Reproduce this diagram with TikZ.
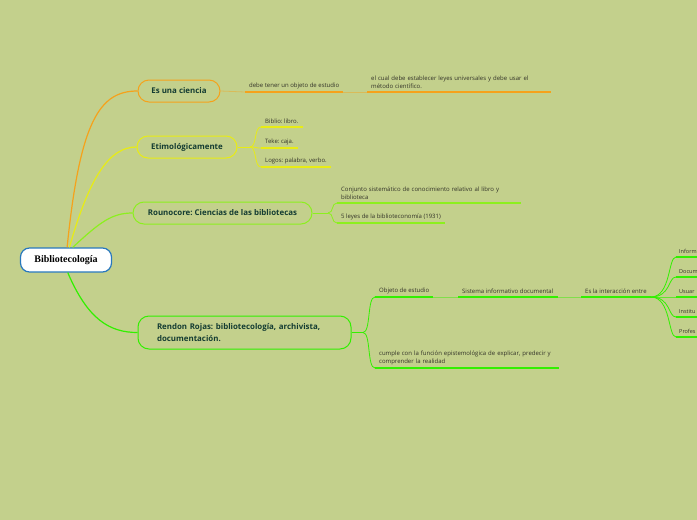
\documentclass[tikz,border=0pt]{standalone}
\usepackage{fontspec}
\setmainfont{Open Sans}
\newfontfamily\rootfont{Liberation Serif}
\definecolor{bgc}{RGB}{195,208,140}
\definecolor{orangec}{RGB}{245,162,27}
\definecolor{yelc}{RGB}{232,236,20}
\definecolor{limec}{RGB}{140,240,30}
\definecolor{greenc}{RGB}{50,240,0}
\definecolor{rootc}{RGB}{40,120,190}
\definecolor{topictext}{RGB}{20,60,50}
\definecolor{leaftext}{RGB}{50,50,40}

\begin{document}
\frenchspacing
\begin{tikzpicture}[x=1pt,y=-1pt,
  rootbox/.style={draw=rootc, fill=white, line width=1.2pt, rounded corners=9pt,
    minimum width=91pt, minimum height=24pt, font=\rootfont\fontsize{10}{12}\selectfont\bfseries},
  topic/.style={draw=#1, line width=1pt, rounded corners=11pt, minimum height=22pt,
    text=topictext, font=\fontsize{7.9}{11.5}\selectfont\bfseries},
  leaf/.style={anchor=south west, inner xsep=4pt, inner ysep=3pt, align=left,
    text=leaftext, font=\fontsize{6}{8.3}\selectfont},
  edgeleaf/.style={leaf, inner xsep=1pt, font=\fontsize{5.5}{8}\selectfont},
  ul/.style={line width=1.5pt, draw=#1},
  link/.style={line width=0.8pt, draw=#1},
  faint/.style={line width=0.8pt, draw=#1, draw opacity=0.45}]

  \fill[bgc] (0,0) rectangle (697,520);
  \clip (0,0) rectangle (697,520);

  % central topic
  \node[rootbox] (root) at (66,260) {Bibliotecología};

  % main topics
  \node[topic=orangec, minimum width=82pt] (ciencia) at (179,91) {Es una ciencia};
  \node[topic=yelc, minimum width=100pt] (etim) at (187,147) {Etimológicamente};
  \node[topic=limec, minimum width=179pt] (roun) at (222.5,213) {Rounocore: Ciencias de las bibliotecas};
  \node[topic=greenc, text width=175pt, inner xsep=19pt, minimum height=33pt, align=left]
    (rend) at (244.5,332.5) {Rendon Rojas: bibliotecología, archivista,\\documentación.};

  % root connectors
  \draw[link=orangec, line width=1.2pt] (root.85) .. controls (80,120) and (100,91) .. (ciencia.west);
  \draw[link=yelc, line width=1.2pt] (root.75) .. controls (90,175) and (110,147) .. (etim.west);
  \draw[link=limec, line width=1.2pt] (root.62) .. controls (100,222) and (112,213) .. (roun.west);
  \draw[link=greenc, line width=1.2pt] (root.-82) .. controls (88,320) and (110,332.5) .. (rend.west);

  % Es una ciencia
  \node[leaf] (objeto) at (245,92) {debe tener un objeto de estudio};
  \node[leaf, text width=176pt] (cual) at (367,92) {el cual debe establecer leyes universales y debe usar el\\método científico.};
  \draw[faint=orangec] (ciencia.east) -- (objeto.south west);
  \draw[ul=orangec] (objeto.south west) -- (objeto.south east);
  \draw[faint=orangec] (objeto.south east) -- (cual.south west);
  \draw[ul=orangec] (cual.south west) -- (cual.south east);

  % Etimologicamente
  \coordinate (etimb) at (250,147);
  \node[leaf] (biblio) at (261,127) {Biblio: libro.};
  \node[leaf] (teke) at (261,148) {Teke: caja.};
  \node[leaf] (logos) at (261,167) {Logos: palabra, verbo.};
  \draw[link=yelc] (etim.east) -- (etimb);
  \foreach \n in {biblio,teke,logos} {
    \draw[link=yelc] (etimb) .. controls (257,147) and (254,0|-\n.south west) .. (\n.south west);
    \draw[ul=yelc] (\n.south west) -- (\n.south east);
  }

  % Rounocore
  \coordinate (rounb) at (328,213);
  \node[leaf, text width=176pt] (conj) at (337,203) {Conjunto sistemático de conocimiento relativo al libro y\\biblioteca};
  \node[leaf] (leyes) at (337,223) {5 leyes de la biblioteconomía (1931)};
  \draw[link=limec] (roun.east) -- (rounb);
  \foreach \n in {conj,leyes} {
    \draw[link=limec] (rounb) .. controls (334,213) and (331,0|-\n.south west) .. (\n.south west);
    \draw[ul=limec] (\n.south west) -- (\n.south east);
  }

  % Rendon Rojas
  \coordinate (rendb) at (363,332.5);
  \node[leaf] (estudio) at (375,297) {Objeto de estudio};
  \node[leaf, text width=176pt] (cumple) at (375,368) {cumple con la función epistemológica de explicar, predecir y\\comprender  la realidad};
  \node[leaf] (sistema) at (458,297) {Sistema informativo documental};
  \node[leaf] (inter) at (581,297) {Es la interacción entre};
  \draw[link=greenc] (rend.east) -- (rendb);
  \foreach \n in {estudio,cumple} {
    \draw[link=greenc] (rendb) .. controls (371,332.5) and (367,0|-\n.south west) .. (\n.south west);
    \draw[ul=greenc] (\n.south west) -- (\n.south east);
  }
  \draw[faint=greenc] (estudio.south east) -- (sistema.south west);
  \draw[ul=greenc] (sistema.south west) -- (sistema.south east);
  \draw[faint=greenc] (sistema.south east) -- (inter.south west);
  \draw[ul=greenc] (inter.south west) -- (inter.south east);

  % interaccion (cut at the edge)
  \node[edgeleaf] (info) at (678,257) {Inform};
  \node[edgeleaf] (docu) at (678,277) {Docum};
  \node[edgeleaf] (usua) at (678,297) {Usuar};
  \node[edgeleaf] (inst) at (678,317) {Institu};
  \node[edgeleaf] (prof) at (678,337) {Profes};
  \foreach \n in {info,docu,usua,inst,prof} {
    \draw[link=greenc] (inter.south east) .. controls (671,297) and (668,0|-\n.south west) .. (676,0|-\n.south west) -- (\n.south west);
    \draw[ul=greenc] (676,0|-\n.south west) -- (697,0|-\n.south west);
  }
\end{tikzpicture}
\end{document}
